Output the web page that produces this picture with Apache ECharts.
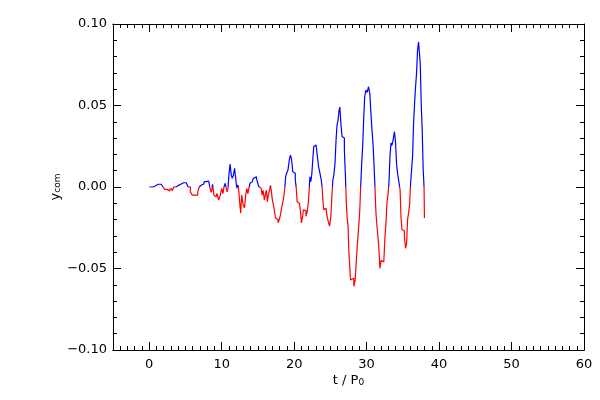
<!DOCTYPE html>
<html><head><meta charset="utf-8">
<script src="https://cdn.jsdelivr.net/npm/echarts@6/dist/echarts.min.js"></script>
<style>html,body{margin:0;padding:0;background:#fff}#c{width:600px;height:400px}</style>
</head><body><div id="c"></div>
<script>
// time in units of P0
const tVals = [0.0,0.5,0.8,1.0,1.5,1.8,2.0,2.3,2.7,3.0,3.3,3.5,3.9,4.2,4.5,5.0,5.2,5.55,5.8,6.1,6.6,6.8,7.0,7.2,7.5,7.7,8.1,8.3,8.5,
8.63,8.86,8.99,9.23,9.46,9.69,9.92,10.1,10.24,10.42,10.56,10.70,10.79,10.93,11.07,11.25,11.39,11.53,11.71,11.85,11.98,12.17,12.30,12.44,12.58,12.67,12.85,13.08,13.22,13.40,13.54,13.68,13.82,14.0,14.23,14.51,14.69,14.92,15.06,15.20,15.38,15.52,15.65,15.79,15.98,16.11,16.25,16.34,16.53,16.66,16.80,16.90,17.03,17.17,17.26,
17.36,17.49,17.68,17.86,18.05,18.18,18.32,18.5,18.64,18.78,18.87,19.05,19.24,19.42,19.56,19.74,19.88,20.06,20.25,20.34,20.48,20.66,20.80,20.94,21.07,21.21,21.35,21.53,21.72,21.9,22.04,22.13,22.22,22.36,22.5,22.63,22.77,22.96,23.09,23.28,23.46,23.65,23.83,23.92,24.0,24.15,24.33,24.47,24.61,24.79,24.98,25.16,25.30,
25.39,25.57,25.71,25.85,25.99,26.13,26.26,26.36,26.54,26.68,26.86,27.0,27.14,27.23,27.37,27.5,27.6,27.73,27.82,27.96,28.14,28.33,28.51,28.6,28.79,28.97,29.11,29.25,29.39,29.52,29.66,29.8,29.99,30.17,30.35,30.53,30.67,30.81,30.95,31.08,31.22,31.36,31.5,31.64,31.77,31.91,32.09,32.28,32.46,32.6,32.74,32.87,33.01,33.15,33.29,33.43,33.56,33.75,33.93,34.07,34.21,34.39,34.57,34.67,34.81,34.94,35.13,35.31,35.45,35.59,35.72,35.86,36.0,36.14,36.27,36.41,36.55,36.69,36.82,36.96,37.1,37.24,37.33,37.47,37.6,37.74,37.88,37.97,37.99];
// centre-of-mass y position
const yCom = [0.0,0.0,0.0006,0.0017,0.0017,0.0015,0.0,-0.0015,-0.0025,-0.0012,-0.0025,0.0,0.0010,0.0017,0.0026,0.0026,0.0015,0.0,-0.003,-0.005,-0.005,-0.003,0.0,0.0012,0.0017,0.0033,0.0037,0.0043,-0.0008,
-0.0033,0.0017,-0.005,-0.006,-0.004,-0.008,-0.005,-0.0008,-0.004,0.0002,0.0023,-0.0008,-0.003,-0.001,0.0074,0.014,0.0074,0.0053,0.0074,0.0115,0.006,-0.0008,0.0012,-0.003,-0.011,-0.016,-0.005,-0.011,-0.0127,-0.005,-0.0008,-0.004,-0.0008,0.0023,0.0033,0.0053,0.0063,0.005,0.0023,0.0002,-0.0008,-0.002,-0.005,-0.002,-0.008,-0.0045,-0.002,-0.009,-0.005,-0.002,0.0008,-0.0025,-0.007,-0.006,-0.013,
-0.013,-0.019,-0.020,-0.022,-0.020,-0.017,-0.013,-0.010,-0.006,-0.0008,0.0063,0.0084,0.0104,0.0166,0.0196,0.0166,0.0094,0.0085,0.0043,-0.0008,-0.009,-0.010,-0.009,-0.015,-0.022,-0.019,-0.014,-0.0145,-0.018,-0.015,-0.009,-0.0008,0.0063,0.0033,0.0074,0.0166,0.0247,0.0258,0.0264,0.0196,0.0125,0.0085,0.0043,-0.0008,-0.008,-0.014,-0.013,-0.013,-0.018,-0.021,-0.024,-0.018,-0.004,
0.0043,0.0074,0.0145,0.0288,0.038,0.041,0.047,0.049,0.039,0.031,0.030,0.0227,0.0074,-0.008,-0.018,-0.024,-0.040,-0.048,-0.057,-0.058,-0.056,-0.061,-0.057,-0.047,-0.037,-0.026,-0.016,0.0002,0.0145,0.0247,0.041,0.055,0.0595,0.058,0.0615,0.0575,0.045,0.035,0.027,0.0145,0.0002,-0.016,-0.024,-0.0305,-0.0387,-0.050,-0.045,-0.046,-0.045,-0.0305,-0.022,-0.010,-0.005,0.0023,0.0186,0.027,0.0255,0.0288,0.034,0.027,0.0135,0.0074,0.007,-0.0018,-0.018,-0.026,-0.027,-0.0305,-0.0376,-0.0345,-0.020,-0.016,-0.011,0.0023,0.0104,0.0186,0.039,0.0514,0.0615,0.0697,0.084,0.089,0.088,0.0759,0.0514,0.035,0.0104,0.0002,-0.019];
const xMajor = [0,10,20,30,40,50,60];
const xMinor = [];
for (let v = -4; v < 60; v++) { if (v % 10 !== 0) xMinor.push(v); }

const data = tVals.map((t, i) => [t, yCom[i]]);
const font = 'DejaVu Sans';
const black = '#000';
const posColor = '#0000ff', negColor = '#ff0000';

function xAx(pos, major, showLabel) {
  const vals = major ? xMajor : xMinor;
  return {
    type: 'value', position: pos, min: -5, max: 60,
    axisLine: { show: true, onZero: false, lineStyle: { color: black, width: 1 } },
    axisTick: { show: true, inside: true, length: major ? 8 : 4, customValues: vals, lineStyle: { color: black } },
    axisLabel: { show: showLabel, customValues: xMajor, color: black, fontFamily: font, fontSize: 13, margin: 8 },
    splitLine: { show: false },
    name: showLabel ? '{a|t / P}{b|0}' : '',
    nameLocation: 'middle', nameGap: 24, nameMoveOverlap: false,
    nameTextStyle: { rich: {
      a: { fontFamily: font, fontSize: 13, color: black, verticalAlign: 'bottom' },
      b: { fontFamily: font, fontSize: 9, color: black, verticalAlign: 'bottom', padding: [4, 0, 0, 0] }
    } }
  };
}
function yAx(pos, showLabel) {
  return {
    type: 'value', position: pos, min: -0.1, max: 0.1, interval: 0.05,
    axisLine: { show: true, onZero: false, lineStyle: { color: black, width: 1 } },
    axisTick: { show: true, inside: true, length: 8, lineStyle: { color: black } },
    minorTick: { show: true, splitNumber: 5, length: 4, lineStyle: { color: black } },
    axisLabel: { show: showLabel, color: black, fontFamily: font, fontSize: 13, margin: 6,
      formatter: v => (v < 0 ? '\u2212' : '') + Math.abs(v).toFixed(2) },
    splitLine: { show: false }, minorSplitLine: { show: false },
    name: showLabel ? '{a|y}{b|com}' : '',
    nameLocation: 'middle', nameRotate: 90, nameGap: 51, nameMoveOverlap: false,
    nameTextStyle: { rich: {
      a: { fontFamily: font, fontSize: 13, color: black, verticalAlign: 'bottom' },
      b: { fontFamily: font, fontSize: 9, color: black, verticalAlign: 'bottom', padding: [4, 0, 0, 0] }
    } }
  };
}

const chart = echarts.init(document.getElementById('c'), null, { renderer: 'canvas' });
chart.setOption({
  animation: false,
  backgroundColor: '#fff',
  grid: { left: 113, right: 16, top: 24, bottom: 50, containLabel: false },
  xAxis: [xAx('bottom', true, true), xAx('bottom', false, false), xAx('top', true, false), xAx('top', false, false)],
  yAxis: [yAx('left', true), yAx('right', false)],
  series: [{
    type: 'line', xAxisIndex: 0, yAxisIndex: 0, data: data, step: 'middle',
    showSymbol: false, symbol: 'none', lineStyle: { width: 1.2, color: posColor }
  }]
});
// colour split at y = 0, located through the chart's own y scale
const zeroPx = chart.convertToPixel({ xAxisIndex: 0, yAxisIndex: 0 }, [0, 0])[1];
const H = chart.getHeight();
const p = zeroPx / H;
chart.setOption({
  series: [{
    lineStyle: { color: new echarts.graphic.LinearGradient(0, 0, 0, H, [
      { offset: 0, color: posColor }, { offset: p, color: posColor },
      { offset: p, color: negColor }, { offset: 1, color: negColor }
    ], true) }
  }]
});
</script></body></html>
